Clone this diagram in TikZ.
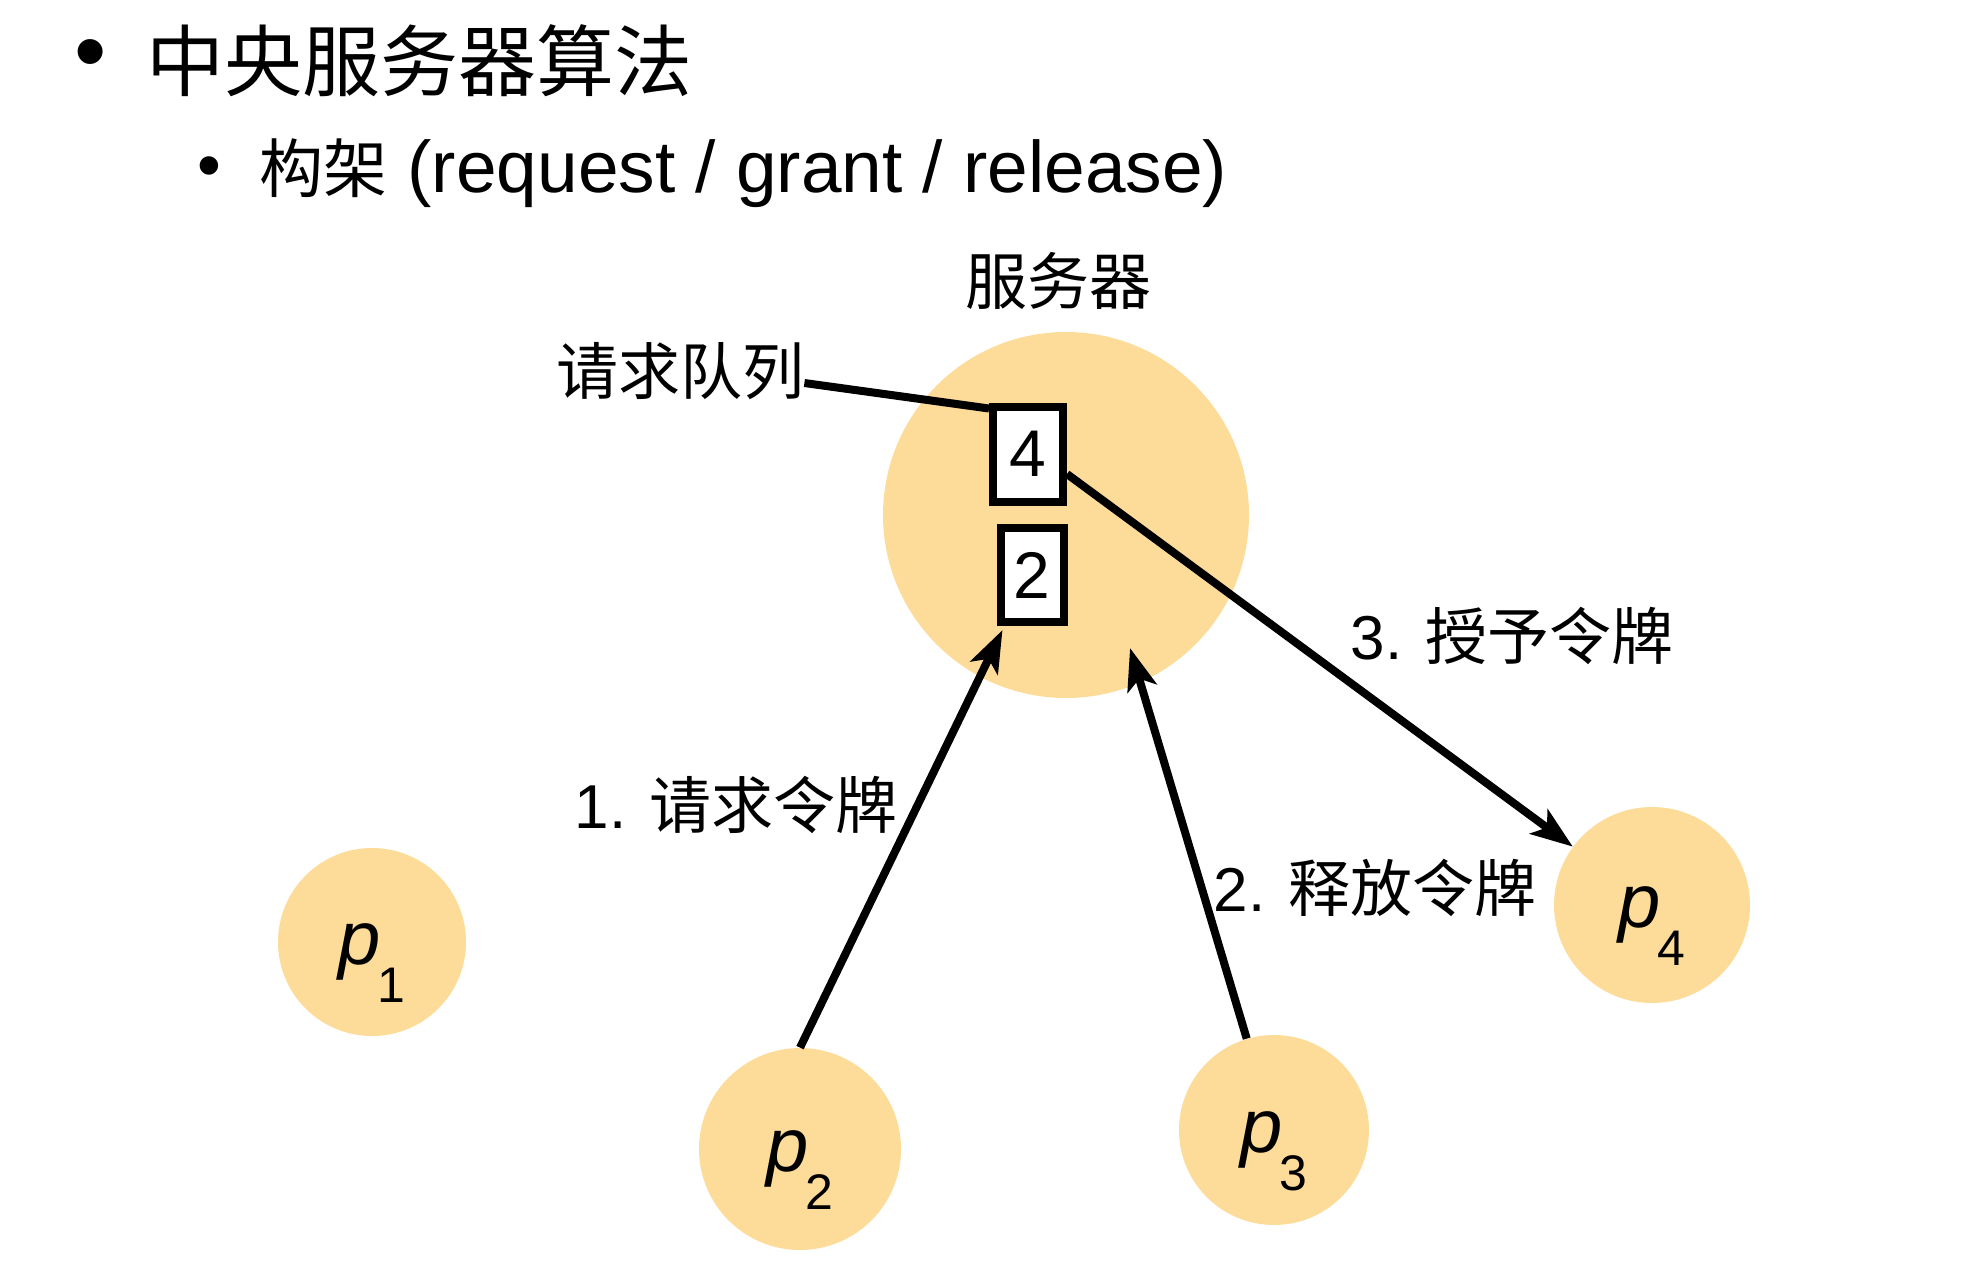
\documentclass[tikz,border=0pt]{standalone}
\usepackage{fontspec}
\setmainfont{Liberation Sans}
\newfontfamily\cjk{Noto Sans CJK SC}
\usetikzlibrary{arrows.meta}
\definecolor{peach}{RGB}{253,220,153}
\newcommand\lblfont{\fontsize{31}{36}\selectfont}
\newcommand\digitfont{\fontsize{33}{38}\selectfont}
\newcommand\pname[1]{\raisebox{-11pt}[0pt][0pt]{\itshape p\kern-1.5pt\raisebox{-0.5em}{\upshape\fontsize{25}{25}\selectfont #1}}}
\tikzstyle{server} = [circle, fill=peach, inner sep=0pt, minimum size=183pt]
\tikzstyle{proc} = [circle, fill=peach, inner sep=0pt, font=\fontsize{38}{40}\selectfont]
\tikzstyle{queue_item} = [rectangle, draw=black, line width=4pt, fill=white, inner sep=0pt, font=\digitfont]
\tikzstyle{caption_text} = [inner sep=0pt, font=\lblfont]
\tikzstyle{token_msg} = [line width=4pt, -{Stealth[length=21pt, width=15pt, inset=5pt]}]
\tikzstyle{pointer_line} = [line width=4pt]
\begin{document}
\begin{tikzpicture}[x=0.5pt, y=-0.5pt]

    % page frame
    \useasboundingbox (0,0) rectangle (1984,1280);

    % heading
    \node (tbullet) at (91,61) [inner sep=0pt, font=\fontsize{46}{46}\selectfont] {•};
    \node (title) at (146,61) [anchor=west, inner sep=0pt, font=\fontsize{39}{44}\selectfont\cjk] {中央服务器算法};
    \node (sbullet) at (209,173) [inner sep=0pt, font=\fontsize{34}{34}\selectfont] {•};
    \node (subtitle) at (259,173) [anchor=west, inner sep=0pt] {{\fontsize{32}{36}\selectfont\cjk 构架}{\fontsize{36.5}{40}\selectfont\ (request / grant / release)}};

    % server with its queue
    \node (srv) at (1066,515) [server] {};
    \node (srvname) at (1058,281) [caption_text] {\cjk 服务器};
    \node (q4) at (1028,454) [queue_item, minimum width=35pt, minimum height=47.5pt] {4};
    \node (q2) at (1032,575) [queue_item, minimum width=31.5pt, minimum height=47pt] {2};
    \node (queue) at (680,371) [caption_text] {\cjk 请求队列};
    \draw [pointer_line] ([yshift=-6pt]queue.east) -- ([yshift=-3pt]q4.north west);

    % processes
    \node (p1) at (372,942) [proc, minimum size=94pt] {\pname{1}};
    \node (p2) at (800,1149) [proc, minimum size=101pt] {\pname{2}};
    \node (p3) at (1274,1130) [proc, minimum size=95pt] {\pname{3}};
    \node (p4) at (1652,905) [proc, minimum size=98pt] {\pname{4}};

    \coordinate (srvin) at (1130,648);

    \draw [token_msg] (p2.north) -- ([xshift=3pt, yshift=-2pt]q2.south west);
    \draw [token_msg] (p3) -- (srvin);
    \draw [token_msg] ([yshift=-10pt]q4.east) -- (p4);

    \node (reqmsg) at (736,805) [caption_text] {1. {\cjk 请求令牌}};
    \node (relmsg) at (1375,888) [caption_text] {2. {\cjk 释放令牌}};
    \node (grantmsg) at (1512,636) [caption_text] {3. {\cjk 授予令牌}};

\end{tikzpicture}
\end{document}
